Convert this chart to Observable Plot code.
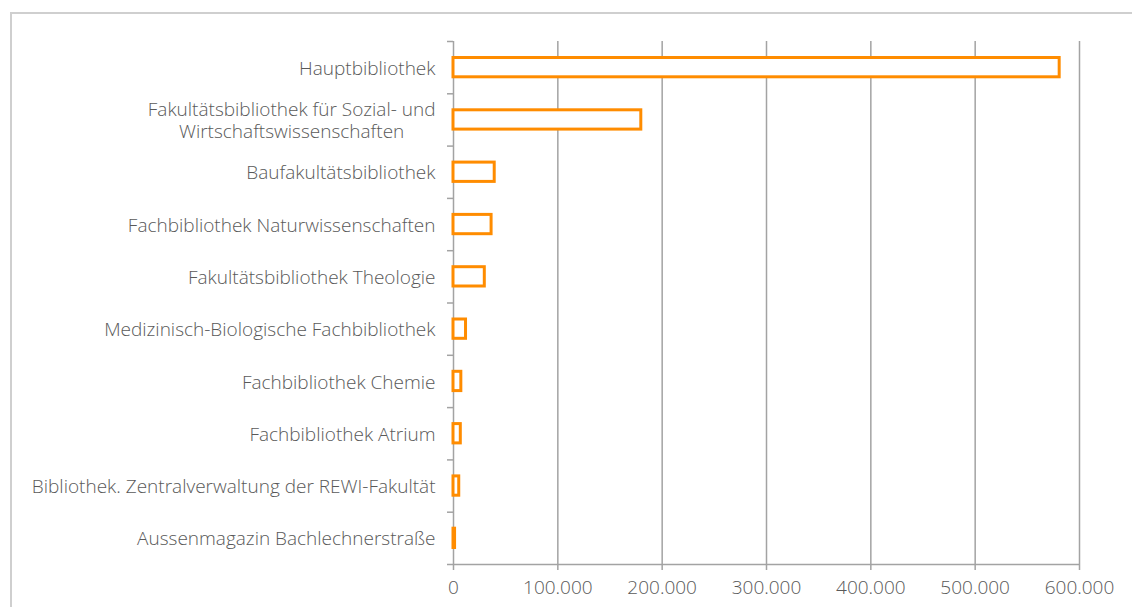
<!DOCTYPE html>
<html>
<head>
<meta charset="utf-8">
<script src="https://cdn.jsdelivr.net/npm/d3@7"></script>
<script src="https://cdn.jsdelivr.net/npm/@observablehq/plot@0.6"></script>
<style>
  html, body { margin: 0; padding: 0; background: #ffffff; overflow: hidden; }
  #chart { position: absolute; left: 0; top: 0; }
  #frame { position: absolute; left: 10px; top: 12px; width: 1200px; height: 700px;
           border: 2px solid #cfcfcf; pointer-events: none; box-sizing: border-box; }
</style>
</head>
<body>
<div id="chart"></div>
<div id="frame"></div>
<script>
const categories = [
  "Hauptbibliothek",
  "Fakultätsbibliothek für Sozial- und\nWirtschaftswissenschaften",
  "Baufakultätsbibliothek",
  "Fachbibliothek Naturwissenschaften",
  "Fakultätsbibliothek Theologie",
  "Medizinisch-Biologische Fachbibliothek",
  "Fachbibliothek Chemie",
  "Fachbibliothek Atrium",
  "Bibliothek. Zentralverwaltung der REWI-Fakultät",
  "Aussenmagazin Bachlechnerstraße"
];
const values = [581000, 180000, 39500, 36500, 30000, 12000, 7500, 7000, 5500, 1500];
const xTicks = [0, 100000, 200000, 300000, 400000, 500000, 600000];

const data = categories.map((label, i) => ({label, value: values[i], i}));
const yBounds = d3.range(0, categories.length + 1);
const fmt = d3.formatLocale({decimal: ",", thousands: ".", grouping: [3], currency: ["", " €"]}).format(",d");

const gridColor = "#a3a3a3";
const textColor = "#595959";
const fs = 19;

const plot = Plot.plot({
  width: 1132,
  height: 607,
  marginLeft: 453,
  marginRight: 53,
  marginTop: 41,
  marginBottom: 43,
  style: {fontFamily: "'Open Sans', sans-serif", fontSize: fs + "px", color: textColor, background: "transparent", fontWeight: 300},
  x: {domain: [0, 600000]},
  y: {domain: [categories.length, 0]},
  marks: [
    Plot.ruleX(xTicks, {stroke: gridColor, strokeWidth: 1.5}),
    Plot.ruleY([categories.length], {stroke: gridColor, strokeWidth: 1.5}),
    Plot.axisY({ticks: yBounds, tickFormat: () => "", tickSize: 6, stroke: gridColor, strokeWidth: 1.5, label: null}),
    Plot.axisX({ticks: xTicks, tickFormat: fmt, tickSize: 6, tickPadding: 10, stroke: gridColor, strokeWidth: 1.5, fill: textColor, label: null, fontSize: fs}),
    Plot.rectX(data, {x1: 0, x2: "value", y1: "i", y2: d => d.i + 1, insetTop: 16.5, insetBottom: 16.5,
      fill: "white", stroke: "#ff8c00", strokeWidth: 3}),
    Plot.text(data, {x: 0, y: d => d.i + 0.5, text: "label", textAnchor: "end", dx: -18,
      lineAnchor: "middle", lineHeight: 1.16, fill: textColor, fontSize: fs})
  ]
});
document.getElementById("chart").appendChild(plot);

// center the lines of multi-line labels against each other (right edge kept)
plot.querySelectorAll("text").forEach(t => {
  const spans = t.querySelectorAll("tspan");
  if (spans.length > 1) {
    const widths = Array.from(spans, s => s.getComputedTextLength());
    const maxW = Math.max(...widths);
    spans.forEach((s, k) => {
      s.setAttribute("x", -(maxW - widths[k]) / 2);
    });
  }
});
</script>
</body>
</html>
